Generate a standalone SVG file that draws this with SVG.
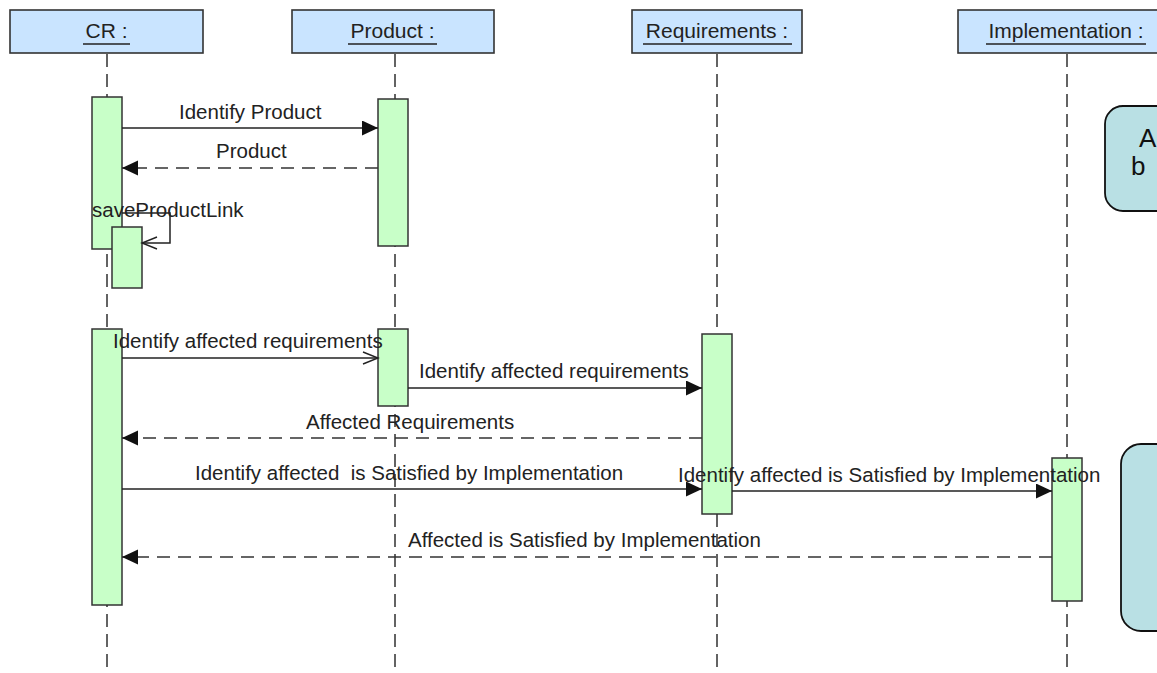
<svg xmlns="http://www.w3.org/2000/svg" width="1157" height="673" viewBox="0 0 1157 673">
  <style>
    .head { fill: #c9e4ff; stroke: #333; stroke-width: 1.6; }
    .life { stroke: #222; stroke-width: 1.4; stroke-dasharray: 13 7; fill: none; }
    .act { fill: #c8ffc8; stroke: #333; stroke-width: 1.5; }
    .msg { stroke: #222; stroke-width: 1.5; fill: none; }
    .ret { stroke: #333; stroke-width: 1.5; fill: none; stroke-dasharray: 13 8; }
    .lbl { font-family: "Liberation Sans", Arial, sans-serif; font-size: 20.5px; fill: #222; }
    .htxt { font-family: "Liberation Sans", Arial, sans-serif; font-size: 21px; fill: #222; text-anchor: middle; }
    .uline { stroke: #222; stroke-width: 1.3; }
    .note { fill: #b9e0e4; stroke: #111; stroke-width: 1.8; }
    .ntxt { font-family: "Liberation Sans", Arial, sans-serif; font-size: 26px; fill: #111; }
  </style>
  <defs>
    <marker id="solid" markerUnits="userSpaceOnUse" markerWidth="17" markerHeight="16" refX="16" refY="7.5" orient="auto">
      <path d="M0,0 L16,7.5 L0,15 z" fill="#111"/>
    </marker>
    <marker id="open" markerUnits="userSpaceOnUse" markerWidth="18" markerHeight="16" refX="16" refY="7" orient="auto">
      <path d="M1,1 L16,7 L1,13" fill="none" stroke="#222" stroke-width="1.4"/>
    </marker>
  </defs>

  <rect width="1157" height="673" fill="#ffffff"/>

  <!-- lifelines -->
  <g id="lifelines">
    <line class="life" x1="107" y1="54" x2="107" y2="673"/>
    <line class="life" x1="395" y1="54" x2="395" y2="673"/>
    <line class="life" x1="717" y1="54" x2="717" y2="673"/>
    <line class="life" x1="1067" y1="54" x2="1067" y2="673"/>
  </g>

  <!-- participant heads -->
  <g id="cr">
    <rect class="head" x="10" y="10" width="193" height="43"/>
    <text class="htxt" x="106.5" y="38">CR :</text>
    <line class="uline" x1="83" y1="44" x2="130" y2="44"/>
  </g>
  <g id="product">
    <rect class="head" x="292" y="10" width="202" height="43"/>
    <text class="htxt" x="392.5" y="38">Product :</text>
    <line class="uline" x1="348" y1="44" x2="437" y2="44"/>
  </g>
  <g id="requirements">
    <rect class="head" x="632" y="10" width="170" height="43"/>
    <text class="htxt" x="717" y="38">Requirements :</text>
    <line class="uline" x1="643" y1="44" x2="792" y2="44"/>
  </g>
  <g id="implementation">
    <rect class="head" x="958" y="10" width="218" height="43"/>
    <text class="htxt" x="1066" y="38">Implementation :</text>
    <line class="uline" x1="986" y1="44" x2="1146" y2="44"/>
  </g>

  <!-- activation bars -->
  <g id="activations">
    <rect class="act" x="92" y="97" width="30" height="152"/>
    <rect class="act" x="378" y="99" width="30" height="147"/>
    <rect class="act" x="112" y="227" width="30" height="61"/>
    <rect class="act" x="92" y="329" width="30" height="276"/>
    <rect class="act" x="378" y="329" width="30" height="77"/>
    <rect class="act" x="702" y="334" width="30" height="180"/>
    <rect class="act" x="1052" y="458" width="30" height="143"/>
  </g>

  <!-- messages -->
  <g id="connectors">
    <line class="msg" x1="122" y1="128" x2="378" y2="128" marker-end="url(#solid)"/>
    <line class="ret" x1="378" y1="168" x2="122" y2="168" marker-end="url(#solid)"/>
    <path class="msg" d="M122,213 H170 V243 H142" marker-end="url(#open)"/>
    <line class="msg" x1="122" y1="358" x2="378" y2="358" marker-end="url(#open)"/>
    <line class="msg" x1="408" y1="388" x2="702" y2="388" marker-end="url(#solid)"/>
    <line class="ret" x1="702" y1="438" x2="122" y2="438" marker-end="url(#solid)"/>
    <line class="msg" x1="122" y1="489" x2="702" y2="489" marker-end="url(#solid)"/>
    <line class="msg" x1="732" y1="491" x2="1052" y2="491" marker-end="url(#solid)"/>
    <line class="ret" x1="1052" y1="557" x2="122" y2="557" marker-end="url(#solid)"/>
  </g>

  <!-- message labels -->
  <g id="labels">
    <text class="lbl" x="179" y="119">Identify Product</text>
    <text class="lbl" x="216" y="158">Product</text>
    <text class="lbl" x="92" y="217">saveProductLink</text>
    <text class="lbl" x="113" y="348">Identify affected requirements</text>
    <text class="lbl" x="419" y="378">Identify affected requirements</text>
    <text class="lbl" x="306" y="429">Affected Requirements</text>
    <text class="lbl" x="195" y="480" xml:space="preserve">Identify affected  is Satisfied by Implementation</text>
    <text class="lbl" x="678" y="482">Identify affected is Satisfied by Implementation</text>
    <text class="lbl" x="408" y="547">Affected is Satisfied by Implementation</text>
  </g>

  <!-- notes -->
  <g id="note1">
    <rect class="note" x="1105" y="106" width="90" height="105" rx="18" ry="18"/>
    <text class="ntxt" x="1139" y="147">A</text>
    <text class="ntxt" x="1131" y="175">b</text>
  </g>
  <g id="note2">
    <rect class="note" x="1121" y="444" width="80" height="187" rx="20" ry="20"/>
  </g>
</svg>
